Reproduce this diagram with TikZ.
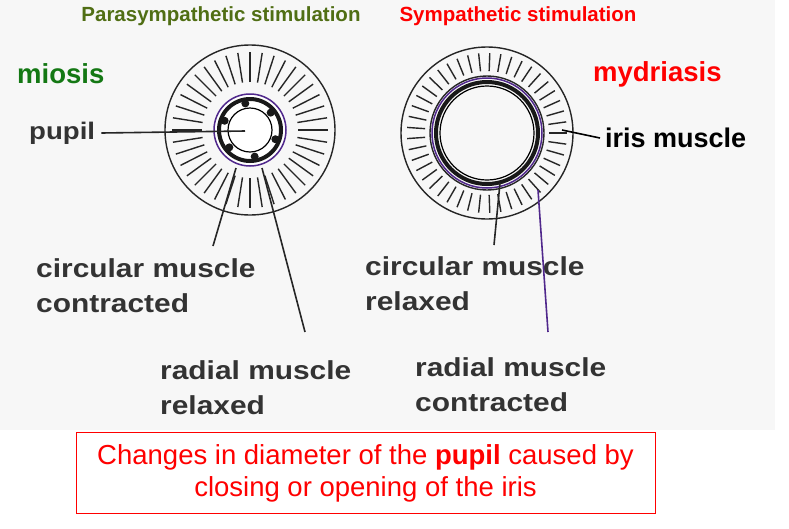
\documentclass[tikz,border=0pt]{standalone}
\usepackage{fontspec}
\setmainfont{Liberation Sans}
\newfontfamily\widefont[FakeStretch=1.15]{Liberation Sans}
\usetikzlibrary{calc}
\definecolor{musc}{RGB}{80,40,140}
\definecolor{pgreen}{RGB}{80,110,20}
\definecolor{mgreen}{RGB}{20,120,20}
\begin{document}
\begin{tikzpicture}[x=1pt,y=-1pt,
  lbl/.style={font=\widefont\bfseries\fontsize{26}{35}\selectfont,text=black!80,anchor=north west,align=left,inner sep=0pt},
  ptr/.style={line width=1.6pt,black!85},
  iris/.style={line width=1.4pt,black!85}]
\useasboundingbox (0,0) rectangle (789,528);
\fill[black!3] (0,0) rectangle (775,430);
% titles
\node[font=\bfseries\fontsize{20.5}{24}\selectfont,text=pgreen] (t1) at (221,16) {Parasympathetic stimulation};
\node[font=\bfseries\fontsize{20.5}{24}\selectfont,text=red] (t2) at (518,16) {Sympathetic stimulation};
\node[font=\bfseries\fontsize{27.5}{30}\selectfont,text=mgreen,anchor=west,inner sep=0pt] (mio) at (17,74) {miosis};
\node[font=\bfseries\fontsize{27.5}{30}\selectfont,text=red,anchor=west,inner sep=0pt] (myd) at (593,74) {mydriasis};
% left iris
\coordinate (cl) at (250,130);
\draw[iris] (cl) circle (85);
\foreach \a in {0,9,...,351}{\draw[iris] ($(cl)+(\a:48)$) -- ($(cl)+(\a:78)$);}
\fill[white] (cl) circle (36);
\draw[line width=4pt,black!90] (cl) circle (31);
\draw[line width=1.5pt,musc] (cl) circle (36);
\draw[line width=1.2pt] (cl) circle (22);
\foreach \a in {20,80,140,200,260,320}{\fill[black!90] ($(cl)+(\a:27)$) circle (4);}
% right iris
\coordinate (cr) at (487,133);
\draw[iris] (cr) circle (86);
\draw[iris] (cr) circle (57);
\foreach \a in {0,8,...,352}{\draw[iris] ($(cr)+(\a:62)$) -- ($(cr)+(\a:80)$);}
\draw[line width=4pt,black!90] (cr) circle (51);
\draw[line width=1.5pt,musc] (cr) circle (55);
\draw[line width=1.2pt] (cr) circle (47);
% labels
\node[lbl,anchor=west,font=\widefont\bfseries\fontsize{24}{30}\selectfont] (pupil) at (29,133) {pupil};
\coordinate (pupilend) at (245,131);
\draw[ptr] (pupil.east) ++(6,0) -- (pupilend);
\node[lbl,anchor=west,text=black,font=\bfseries\fontsize{27}{30}\selectfont] (irism) at (605,138) {iris muscle};
\coordinate (irisend) at (562,130);
\draw[ptr,black] (irism.west) ++(-5,0) -- (irisend);
\node[lbl] (cmc) at (36,258) {circular muscle\\contracted};
\node[lbl] (cmr) at (365,256) {circular muscle\\relaxed};
\node[lbl] (rmr) at (160,360) {radial muscle\\relaxed};
\node[lbl] (rmc) at (415,357) {radial muscle\\contracted};
\coordinate (a1) at (213,246); \coordinate (a1e) at (236,168);
\draw[ptr] (a1) -- (a1e);
\coordinate (a2) at (305,332); \coordinate (a2e) at (262,168);
\draw[ptr] (a2) -- (a2e);
\coordinate (a3) at (494,245); \coordinate (a3e) at (500,183);
\draw[ptr] (a3) -- (a3e);
\coordinate (a4) at (548,332); \coordinate (a4e) at (538,190);
\draw[ptr,musc] (a4) -- (a4e);
% box
\node[draw=red,line width=1pt,minimum width=579,minimum height=81,text=red,
  font=\fontsize{27.5}{32}\selectfont,align=center] (box) at (365.5,473)
  {Changes in diameter of the \textbf{pupil} caused by\\closing or opening of the iris};
\end{tikzpicture}
\end{document}
